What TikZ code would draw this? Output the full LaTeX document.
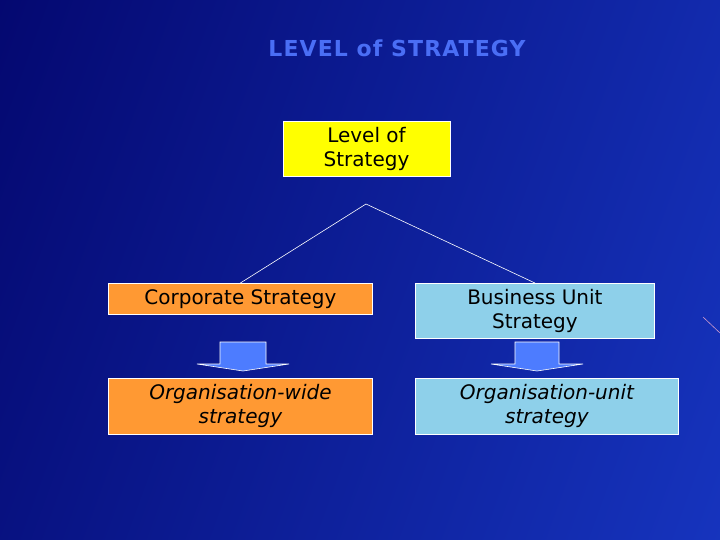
\documentclass[tikz,border=0pt]{standalone}
\usepackage{fontspec}
\setmainfont{DejaVu Sans}
\newfontfamily\titlefont[LetterSpace=5]{DejaVu Sans}
\usepackage{tikz}
\usetikzlibrary{positioning}
\definecolor{slidedark}{RGB}{4,8,112}
\definecolor{slideedge}{RGB}{22,52,190}
\definecolor{titleblue}{RGB}{74,110,245}
\definecolor{boxorange}{RGB}{255,153,51}
\definecolor{boxblue}{RGB}{142,208,234}
\definecolor{boxyellow}{RGB}{255,255,0}
\definecolor{arrowblue}{RGB}{77,124,255}

\begin{document}
\begin{tikzpicture}[
		x=1pt, y=-1pt,
		box/.style={
			rectangle,
			draw=white,
			line width=0.8pt,
			align=center,
			inner sep=0pt,
			text=black,
			font=\fontsize{20}{24}\selectfont
			},
		corpbox/.style={
			box,
			fill=boxorange,
			minimum width=264pt
			},
		unitbox/.style={
			box,
			fill=boxblue
			},
		line/.style={
			draw=white,
			line width=0.6pt
			},
		bigarrow/.style={
			draw=white,
			line width=0.6pt,
			fill=arrowblue
			}]
	    % Background
	    \useasboundingbox (0,0) rectangle (720,540);
	    \shade[left color=slidedark, right color=slideedge, shading angle=70] (-100,-100) rectangle (820,640);
	    \draw[violet!40!white, line width=0.6pt] (703,317) -- (720,333);

	    % Place nodes
	    \node [font=\titlefont\bfseries\fontsize{22}{26}\selectfont, text=titleblue] (title) at (397,48) {LEVEL of STRATEGY};
	    \node [box, fill=boxyellow, minimum width=167pt, minimum height=55pt] (level) at (366.5,148.5) {Level of\\Strategy};
	    \node [corpbox, minimum height=31pt, anchor=north west] (corporate) at (108,283) {Corporate Strategy};
	    \node [unitbox, minimum width=239pt, minimum height=55pt, anchor=north west] (business) at (415,283) {Business Unit\\Strategy};
	    \node [corpbox, minimum height=56pt, anchor=north west, font=\itshape\fontsize{20}{24}\selectfont] (orgwide) at (108,378) {Organisation-wide\\strategy};
	    \node [unitbox, minimum width=263pt, minimum height=56pt, anchor=north west, font=\itshape\fontsize{20}{24}\selectfont] (orgunit) at (415,378) {Organisation-unit\\strategy};
	    \coordinate (apex) at (366,204);

	    % Draw edges
	    \path [line] (corporate.north) -- (apex) -- (business.north);
	    \draw [bigarrow] (243,342) ++(-23,0) -- ++(46,0) -- ++(0,22) -- ++(23,0) -- ++(-46,7) -- ++(-46,-7) -- ++(23,0) -- cycle;
	    \draw [bigarrow] (537,342) ++(-22,0) -- ++(44,0) -- ++(0,22) -- ++(24,0) -- ++(-46,7) -- ++(-46,-7) -- ++(24,0) -- cycle;
	\end{tikzpicture}
\end{document}
